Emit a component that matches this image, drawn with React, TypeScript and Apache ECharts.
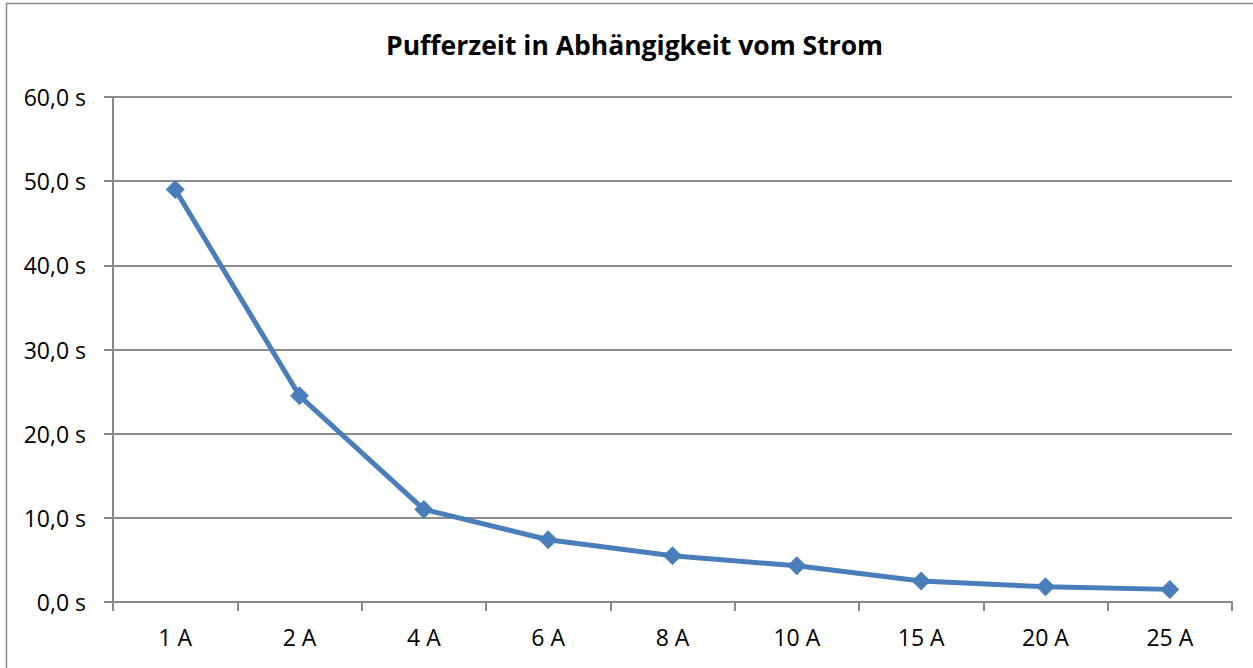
import React, { useEffect, useRef } from "react";
import * as echarts from "echarts";

const categories = ["1 A", "2 A", "4 A", "6 A", "8 A", "10 A", "15 A", "20 A", "25 A"];
const bufferTimes = [49.0, 24.5, 11.0, 7.4, 5.5, 4.3, 2.5, 1.8, 1.5];
const titleText = "Pufferzeit in Abhängigkeit vom Strom";

export default function App() {
  const ref = useRef<HTMLDivElement>(null);
  useEffect(() => {
    if (!ref.current) return;
    const chart = echarts.init(ref.current, null, { renderer: "svg" });
    const font = "'Open Sans', sans-serif";
    chart.setOption({
      animation: false,
      backgroundColor: "#ffffff",
      textStyle: { fontFamily: font },
      title: {
        text: titleText,
        left: 381,
        top: 26,
        textStyle: { fontSize: 26.5, fontWeight: "bold", color: "#000", fontFamily: font },
      },
      graphic: [
        {
          type: "rect",
          shape: { x: 6.5, y: 3.5, width: 1270, height: 690 },
          style: { fill: "none", stroke: "#8c8c8c", lineWidth: 1.5 },
          silent: true,
        },
      ],
      grid: { left: 113, right: 21, top: 97, bottom: 66 },
      xAxis: {
        type: "category",
        data: categories,
        boundaryGap: true,
        axisLine: { show: true, lineStyle: { color: "#888888", width: 2 } },
        axisTick: { show: true, length: 9, lineStyle: { color: "#888888", width: 2 } },
        axisLabel: { color: "#000", fontSize: 23, margin: 23, fontFamily: font },
        splitLine: { show: false },
      },
      yAxis: {
        type: "value",
        min: 0,
        max: 60,
        interval: 10,
        axisLine: { show: true, lineStyle: { color: "#888888", width: 2 } },
        axisTick: { show: true, length: 9, lineStyle: { color: "#888888", width: 2 } },
        axisLabel: {
          color: "#000",
          fontSize: 23,
          margin: 27,
          fontFamily: font,
          formatter: (v: number) => v.toFixed(1).replace(".", ",") + " s",
        },
        splitLine: { show: true, lineStyle: { color: "#8c8c8c", width: 2 } },
      },
      series: [
        {
          type: "line",
          data: bufferTimes,
          symbol: "diamond",
          symbolSize: 19,
          itemStyle: { color: "#4a7ebb" },
          lineStyle: { color: "#4a7ebb", width: 5 },
        },
      ],
    });
    return () => chart.dispose();
  }, []);
  return (
    <div
      ref={ref}
      style={{ position: "fixed", left: 0, top: 0, width: 1253, height: 668 }}
    />
  );
}
